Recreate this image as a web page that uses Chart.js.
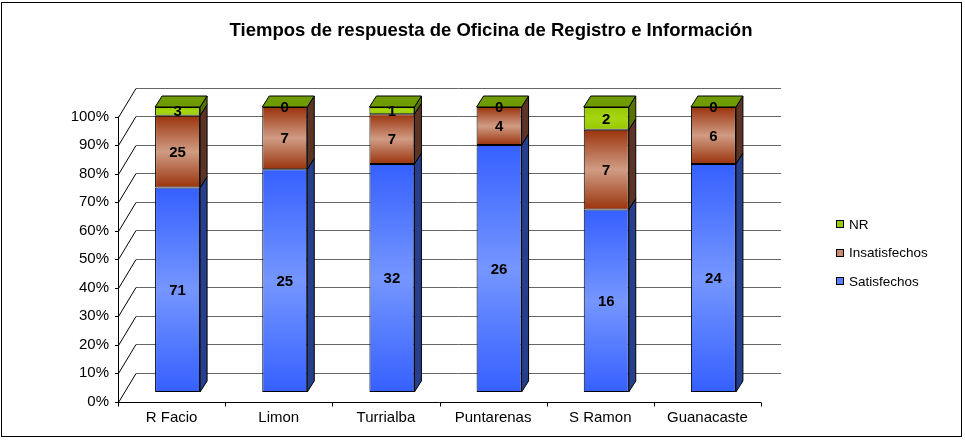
<!DOCTYPE html>
<html>
<head>
<meta charset="utf-8">
<title>Tiempos de respuesta</title>
<script src="https://cdn.jsdelivr.net/npm/chart.js@4.4.0/dist/chart.umd.min.js"></script>
<style>
    body { margin: 0; background: #fff; }
    canvas { display: block; }
</style>
</head>
<body>
<canvas id="chart" width="965" height="448"></canvas>
<script>
// datos
const categories = ['R Facio', 'Limon', 'Turrialba', 'Puntarenas', 'S Ramon', 'Guanacaste'];
const satisfechos = [71, 25, 32, 26, 16, 24];
const insatisfechos = [25, 7, 7, 4, 7, 6];
const noResponde = [3, 0, 1, 0, 2, 0];
const seriesNames = ['Satisfechos', 'Insatisfechos', 'NR'];
const chartTitle = 'Tiempos de respuesta de Oficina de Registro e Información';

// profundidad 3D
const DX = 7, DY = 11;          // barras
const AX = 6, AY = 9.5;         // eje frontal respecto a la cara de la barra
const WX = 18, WY = 29;         // pared del fondo respecto al eje frontal
const FONT = '"Liberation Sans", Arial, sans-serif';

const totals = categories.map((_, i) => satisfechos[i] + insatisfechos[i] + noResponde[i]);
const toPercent = series => series.map((v, i) => v / totals[i] * 100);

function frontGradient(context, dark, light) {
    const chart = context.chart;
    const y = chart.scales.y;
    if (!y || context.type !== 'data') return dark;
    const i = context.dataIndex;
    const di = context.datasetIndex;
    let start = 0;
    for (let k = 0; k < di; k++) start += chart.data.datasets[k].data[i];
    const end = start + chart.data.datasets[di].data[i];
    const y0 = y.getPixelForValue(start);
    const y1 = y.getPixelForValue(end);
    if (!isFinite(y0) || !isFinite(y1) || y0 - y1 < 1) return dark;
    const g = chart.ctx.createLinearGradient(0, y1, 0, y0);
    g.addColorStop(0, dark);
    g.addColorStop(0.5, light);
    g.addColorStop(1, dark);
    return g;
}

const styles = [
    { dark: '#3560ff', light: '#7596ff', side: '#263f8c', top: '#5577ee', legend: '#5c7cff' },
    { dark: '#9a330c', light: '#d09c84', side: '#5b3426', top: '#8a3a1a', legend: '#c68a70' },
    { dark: '#96c800', light: '#a6d612', side: '#587400', top: '#6f9a00', legend: '#99cc00' }
];

// ejes y cuadricula en perspectiva
const gridPlugin = {
    id: 'grid3d',
    beforeDatasetsDraw(chart) {
        const ctx = chart.ctx;
        const y = chart.scales.y;
        const fx = chart.chartArea.left - AX;
        const fr = chart.chartArea.right - AX;
        ctx.save();
        ctx.lineWidth = 1;
        y.ticks.forEach(t => {
            const py = Math.round(y.getPixelForValue(t.value) + AY) + 0.5;
            // linea del fondo
            ctx.strokeStyle = '#666';
            ctx.beginPath();
            ctx.moveTo(fx + WX, py - WY);
            ctx.lineTo(fr + WX + 2, py - WY);
            ctx.stroke();
            // diagonal lateral
            ctx.strokeStyle = '#000';
            ctx.beginPath();
            ctx.moveTo(fx + 0.5, py);
            ctx.lineTo(fx + WX, py - WY);
            ctx.stroke();
            // marca del eje
            ctx.beginPath();
            ctx.moveTo(fx - 3, py);
            ctx.lineTo(fx + 0.5, py);
            ctx.stroke();
        });
        const yTop = y.getPixelForValue(100) + AY;
        const yBot = Math.round(y.getPixelForValue(0) + AY) + 0.5;
        ctx.strokeStyle = '#000';
        ctx.beginPath();
        ctx.moveTo(fx + 0.5, yTop);
        ctx.lineTo(fx + 0.5, yBot);
        ctx.lineTo(fr, yBot);
        ctx.stroke();
        // marcas de categorias
        for (let k = 0; k <= categories.length; k++) {
            const px = Math.round(fx + (fr - fx) * k / categories.length) + 0.5;
            ctx.beginPath();
            ctx.moveTo(px, yBot);
            ctx.lineTo(px, yBot + 4);
            ctx.stroke();
        }
        ctx.restore();
    }
};

// caras laterales, superiores, etiquetas, leyenda y titulo
const facesPlugin = {
    id: 'faces3d',
    afterDatasetsDraw(chart) {
        const ctx = chart.ctx;
        const n = chart.data.datasets.length;
        ctx.save();
        ctx.lineWidth = 1;
        ctx.strokeStyle = '#000';
        chart.data.datasets.forEach((ds, di) => {
            const meta = chart.getDatasetMeta(di);
            meta.data.forEach(el => {
                const left = el.x - el.width / 2;
                const right = el.x + el.width / 2;
                const top = Math.min(el.y, el.base);
                const bottom = Math.max(el.y, el.base);
                if (bottom - top > 0.5) {
                    ctx.fillStyle = styles[di].side;
                    ctx.beginPath();
                    ctx.moveTo(right, bottom);
                    ctx.lineTo(right + DX, bottom - DY);
                    ctx.lineTo(right + DX, top - DY);
                    ctx.lineTo(right, top);
                    ctx.closePath();
                    ctx.fill();
                    ctx.stroke();
                }
                if (di === n - 1) {
                    ctx.fillStyle = styles[di].top;
                    ctx.beginPath();
                    ctx.moveTo(left, top);
                    ctx.lineTo(left + DX, top - DY);
                    ctx.lineTo(right + DX, top - DY);
                    ctx.lineTo(right, top);
                    ctx.closePath();
                    ctx.fill();
                    ctx.stroke();
                }
            });
        });
        // valores
        ctx.fillStyle = '#000';
        ctx.font = 'bold 15px ' + FONT;
        ctx.textAlign = 'center';
        ctx.textBaseline = 'middle';
        chart.data.datasets.forEach((ds, di) => {
            const meta = chart.getDatasetMeta(di);
            meta.data.forEach((el, i) => {
                ctx.fillText(String(ds.counts[i]), el.x, (el.y + el.base) / 2 + 1);
            });
        });
        ctx.restore();
    },
    afterDraw(chart) {
        const ctx = chart.ctx;
        ctx.save();
        // titulo
        ctx.fillStyle = '#000';
        ctx.font = 'bold 18.5px ' + FONT;
        ctx.textAlign = 'center';
        ctx.textBaseline = 'middle';
        ctx.fillText(chartTitle, 491, 31);
        // leyenda
        ctx.font = '13.5px ' + FONT;
        ctx.textAlign = 'left';
        const rows = [2, 1, 0];
        rows.forEach((di, r) => {
            const cy = 224 + r * 28.5;
            ctx.fillStyle = styles[di].legend;
            ctx.fillRect(836.5, Math.round(cy) - 3.5, 7, 7);
            ctx.strokeStyle = '#000';
            ctx.strokeRect(836.5, Math.round(cy) - 3.5, 7, 7);
            ctx.fillStyle = '#000';
            ctx.fillText(chart.data.datasets[di].label, 849, cy + 1);
        });
        // marco
        ctx.strokeStyle = '#000';
        ctx.strokeRect(1.5, 2.5, 960, 434);
        ctx.restore();
    }
};

function buildDatasets() {
    const counts = [satisfechos, insatisfechos, noResponde];
    return counts.map((series, di) => ({
        label: seriesNames[di],
        data: toPercent(series),
        counts: series,
        backgroundColor: ctx => frontGradient(ctx, styles[di].dark, styles[di].light),
        borderColor: '#000',
        borderWidth: 1,
        borderSkipped: false,
        barPercentage: 0.42,
        categoryPercentage: 1
    }));
}

function initializeChart() {
    new Chart(document.getElementById('chart'), {
        type: 'bar',
        data: {
            labels: categories,
            datasets: buildDatasets()
        },
        options: {
            responsive: false,
            animation: false,
            layout: { padding: { top: 107, left: 0, right: 198, bottom: 0 } },
            plugins: {
                legend: { display: false },
                title: { display: false },
                tooltip: { enabled: false }
            },
            scales: {
                x: {
                    stacked: true,
                    grid: { display: false, drawTicks: false },
                    border: { display: false },
                    ticks: {
                        color: '#000',
                        font: { family: FONT, size: 15 },
                        labelOffset: -AX,
                        padding: 17,
                        maxRotation: 0
                    },
                    afterFit: scale => { scale.height = 56; }
                },
                y: {
                    stacked: true,
                    min: 0,
                    max: 100,
                    grid: { display: false, drawTicks: false },
                    border: { display: false },
                    ticks: {
                        stepSize: 10,
                        color: '#000',
                        font: { family: FONT, size: 15 },
                        labelOffset: AY,
                        padding: 15,
                        callback: v => v + '%'
                    },
                    afterFit: scale => { scale.width = 124; }
                }
            }
        },
        plugins: [gridPlugin, facesPlugin]
    });
}

document.addEventListener('DOMContentLoaded', initializeChart);
</script>
</body>
</html>
